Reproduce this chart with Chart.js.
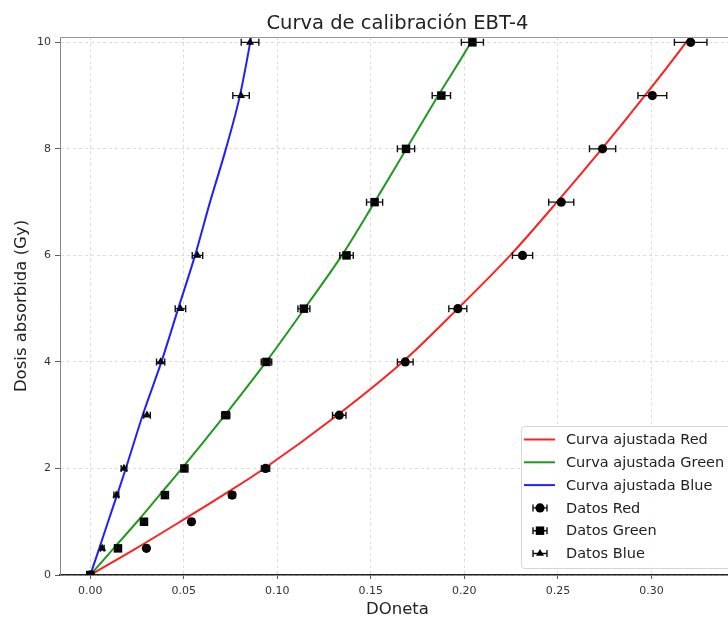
<!DOCTYPE html>
<html>
<head>
<meta charset="utf-8">
<script src="https://cdn.jsdelivr.net/npm/chart.js@4"></script>
<style>
  html, body { margin: 0; padding: 0; background: #fff; overflow: hidden; }
  #wrap { width: 728px; height: 617px; overflow: hidden; position: relative; }
  canvas { display: block; }
</style>
</head>
<body>
<div id="wrap"><canvas id="chart" width="745" height="617"></canvas></div>
<script>
// ─── DATA ────────────────────────────────────────────────────────────────
const TITLE = 'Curva de calibración EBT-4';
const X_LABEL = 'DOneta';
const Y_LABEL = 'Dosis absorbida (Gy)';

const xTicks = [0, 0.05, 0.10, 0.15, 0.20, 0.25, 0.30];
const yTicks = [0, 2, 4, 6, 8, 10];

// measured points (dose vs net optical density) with x error
const doseRed = [0, 0.5, 1, 1.5, 2, 3, 4, 5, 6, 7, 8, 9, 10];
const odRed = [0, 0.0300, 0.0541, 0.0758, 0.0937, 0.1331, 0.1684, 0.1965, 0.2311, 0.2518, 0.2739, 0.3005, 0.3210];
const errRed = [0, 0.0012, 0.0015, 0.0018, 0.0022, 0.0036, 0.0042, 0.0048, 0.0054, 0.0067, 0.0070, 0.0077, 0.0087];

const doseGreen = [0, 0.5, 1, 1.5, 2, 3, 4, 5, 6, 7, 8, 9, 10];
const odGreen = [0, 0.0148, 0.0287, 0.0399, 0.0503, 0.0724, 0.0942, 0.1142, 0.1370, 0.1520, 0.1688, 0.1877, 0.2043];
const errGreen = [0, 0.0010, 0.0012, 0.0014, 0.0016, 0.0022, 0.0028, 0.0032, 0.0036, 0.0043, 0.0046, 0.0049, 0.0059];

const doseBlue = [0, 0.5, 1.5, 2, 3, 4, 5, 6, 9, 10];
const odBlue = [0, 0.0064, 0.0139, 0.0180, 0.0303, 0.0376, 0.0482, 0.0573, 0.0806, 0.0854];
const errBlue = [0, 0.0010, 0.0013, 0.0015, 0.0018, 0.0022, 0.0028, 0.0028, 0.0044, 0.0047];

// fitted curves
const fitDose = [0, 0.5, 1, 1.5, 2, 3, 4, 5, 6, 7, 8, 9, 10, 10.2];
const fitRed = [0, 0.0245, 0.048, 0.071, 0.093, 0.132, 0.167, 0.1965, 0.2245, 0.2495, 0.2735, 0.2965, 0.3185, 0.3225];
const fitGreen = [0, 0.0125, 0.025, 0.037, 0.049, 0.072, 0.094, 0.1145, 0.1345, 0.152, 0.169, 0.186, 0.2035, 0.2065];
const fitBlue = [0, 0.0048, 0.0095, 0.0143, 0.019, 0.028, 0.038, 0.047, 0.056, 0.064, 0.0725, 0.080, 0.0855, 0.0865];

const X_MIN = -0.0162, X_MAX = 0.3447;
const Y_MIN = 0, Y_MAX = 10.1;

const FONT = "'DejaVu Sans', 'Liberation Sans', sans-serif";

function pts(xs, ys) {
  return xs.map((x, i) => ({ x: x, y: ys[i] }));
}

function curve(label, xs, color) {
  return {
    label, data: pts(xs, fitDose), showLine: true, pointRadius: 0,
    borderColor: color, borderWidth: 2, cubicInterpolationMode: 'monotone',
    order: 2, isFit: true
  };
}

function markers(label, xs, ys, err, style, radius) {
  return {
    label, data: pts(xs, ys), showLine: false, pointStyle: style, pointRadius: radius,
    pointBackgroundColor: '#000', pointBorderColor: '#000', pointBorderWidth: 0,
    order: 1, xErr: err
  };
}

// ─── PLUGINS ─────────────────────────────────────────────────────────────
const errorBars = {
  id: 'errorBars',
  afterDatasetsDraw(chart) {
    const { ctx, scales: { x, y } } = chart;
    ctx.save();
    ctx.strokeStyle = '#111';
    ctx.lineWidth = 1.4;
    chart.data.datasets.forEach(ds => {
      if (!ds.xErr) return;
      ds.data.forEach((p, j) => {
        const e = ds.xErr[j];
        if (!e) return;
        const py = y.getPixelForValue(p.y);
        const x0 = x.getPixelForValue(p.x - e), x1 = x.getPixelForValue(p.x + e);
        ctx.beginPath();
        ctx.moveTo(x0, py); ctx.lineTo(x1, py);
        ctx.moveTo(x0, py - 3.5); ctx.lineTo(x0, py + 3.5);
        ctx.moveTo(x1, py - 3.5); ctx.lineTo(x1, py + 3.5);
        ctx.stroke();
      });
    });
    ctx.restore();
  }
};

const frameAndText = {
  id: 'frameAndText',
  afterDraw(chart) {
    const { ctx, chartArea: a } = chart;
    ctx.save();
    // top + right spines
    ctx.strokeStyle = '#999';
    ctx.lineWidth = 1;
    ctx.beginPath();
    ctx.moveTo(a.left, a.top + 0.5); ctx.lineTo(a.right, a.top + 0.5);
    ctx.moveTo(a.right, a.top); ctx.lineTo(a.right, a.bottom);
    ctx.stroke();
    // title
    ctx.fillStyle = '#222';
    ctx.font = '19.5px ' + FONT;
    ctx.textAlign = 'center';
    ctx.textBaseline = 'middle';
    ctx.fillText(TITLE, (a.left + a.right) / 2, 23.5);

    // legend box (lower right)
    const bx = 521, by = 426, bw = 220, bh = 142;
    ctx.fillStyle = 'rgba(255,255,255,0.85)';
    ctx.strokeStyle = '#d5d5d5';
    ctx.lineWidth = 1;
    ctx.beginPath();
    ctx.roundRect(bx + 0.5, by + 0.5, bw, bh, 3);
    ctx.fill(); ctx.stroke();

    const items = chart.data.datasets.slice().sort((p, q) => (p.isFit ? 0 : 1) - (q.isFit ? 0 : 1));
    ctx.font = '14.5px ' + FONT;
    ctx.textAlign = 'left';
    items.forEach((ds, i) => {
      const cy = 439.5 + i * 22.8;
      if (ds.isFit) {
        ctx.strokeStyle = ds.borderColor;
        ctx.lineWidth = 2;
        ctx.beginPath(); ctx.moveTo(524, cy); ctx.lineTo(555, cy); ctx.stroke();
      } else {
        ctx.strokeStyle = '#111';
        ctx.lineWidth = 1.4;
        ctx.beginPath();
        ctx.moveTo(533, cy); ctx.lineTo(547, cy);
        ctx.moveTo(533, cy - 3.5); ctx.lineTo(533, cy + 3.5);
        ctx.moveTo(547, cy - 3.5); ctx.lineTo(547, cy + 3.5);
        ctx.stroke();
        ctx.fillStyle = '#000';
        Chart.helpers.drawPoint(ctx, { pointStyle: ds.pointStyle, radius: ds.pointRadius, borderWidth: 0 }, 540, cy);
      }
      ctx.fillStyle = '#222';
      ctx.fillText(ds.label, 566, cy + 1);
    });
    ctx.restore();
  }
};

// ─── CHART ───────────────────────────────────────────────────────────────
new Chart(document.getElementById('chart'), {
  type: 'scatter',
  data: {
    datasets: [
      curve('Curva ajustada Red', fitRed, '#ff2020'),
      curve('Curva ajustada Green', fitGreen, '#1f9a1f'),
      curve('Curva ajustada Blue', fitBlue, '#2020ff'),
      markers('Datos Red', odRed, doseRed, errRed, 'circle', 4.6),
      markers('Datos Green', odGreen, doseGreen, errGreen, 'rect', 6),
      markers('Datos Blue', odBlue, doseBlue, errBlue, 'triangle', 4.6)
    ]
  },
  options: {
    responsive: false,
    animation: false,
    layout: { padding: { top: 37, right: 10, left: 0, bottom: 0 } },
    plugins: { legend: { display: false }, title: { display: false }, tooltip: { enabled: false } },
    scales: {
      x: {
        type: 'linear', min: X_MIN, max: X_MAX,
        afterBuildTicks: s => { s.ticks = xTicks.map(v => ({ value: v })); },
        afterFit: s => { s.height = 42; },
        ticks: { color: '#333', font: { family: FONT, size: 11 }, padding: 6, callback: v => v.toFixed(2), maxRotation: 0 },
        grid: { color: '#d4d4d4', lineWidth: 0.8, tickLength: 4, tickColor: '#333' },
        border: { display: true, color: '#222', width: 1.5, dash: [3, 3] },
        title: { display: true, text: X_LABEL, color: '#222', font: { family: FONT, size: 16.5 }, padding: { top: 0, bottom: -3 } }
      },
      y: {
        type: 'linear', min: Y_MIN, max: Y_MAX,
        afterBuildTicks: s => { s.ticks = yTicks.map(v => ({ value: v })); },
        afterFit: s => { s.width = 60; },
        ticks: { color: '#333', font: { family: FONT, size: 11 }, padding: 4 },
        grid: { color: '#d4d4d4', lineWidth: 0.8, tickLength: 5, tickColor: '#333' },
        border: { display: true, color: '#888', width: 1, dash: [3, 3] },
        title: { display: true, text: Y_LABEL, color: '#222', font: { family: FONT, size: 16.5 }, padding: { top: 12, bottom: 0 } }
      }
    }
  },
  plugins: [errorBars, frameAndText]
});
</script>
</body>
</html>
